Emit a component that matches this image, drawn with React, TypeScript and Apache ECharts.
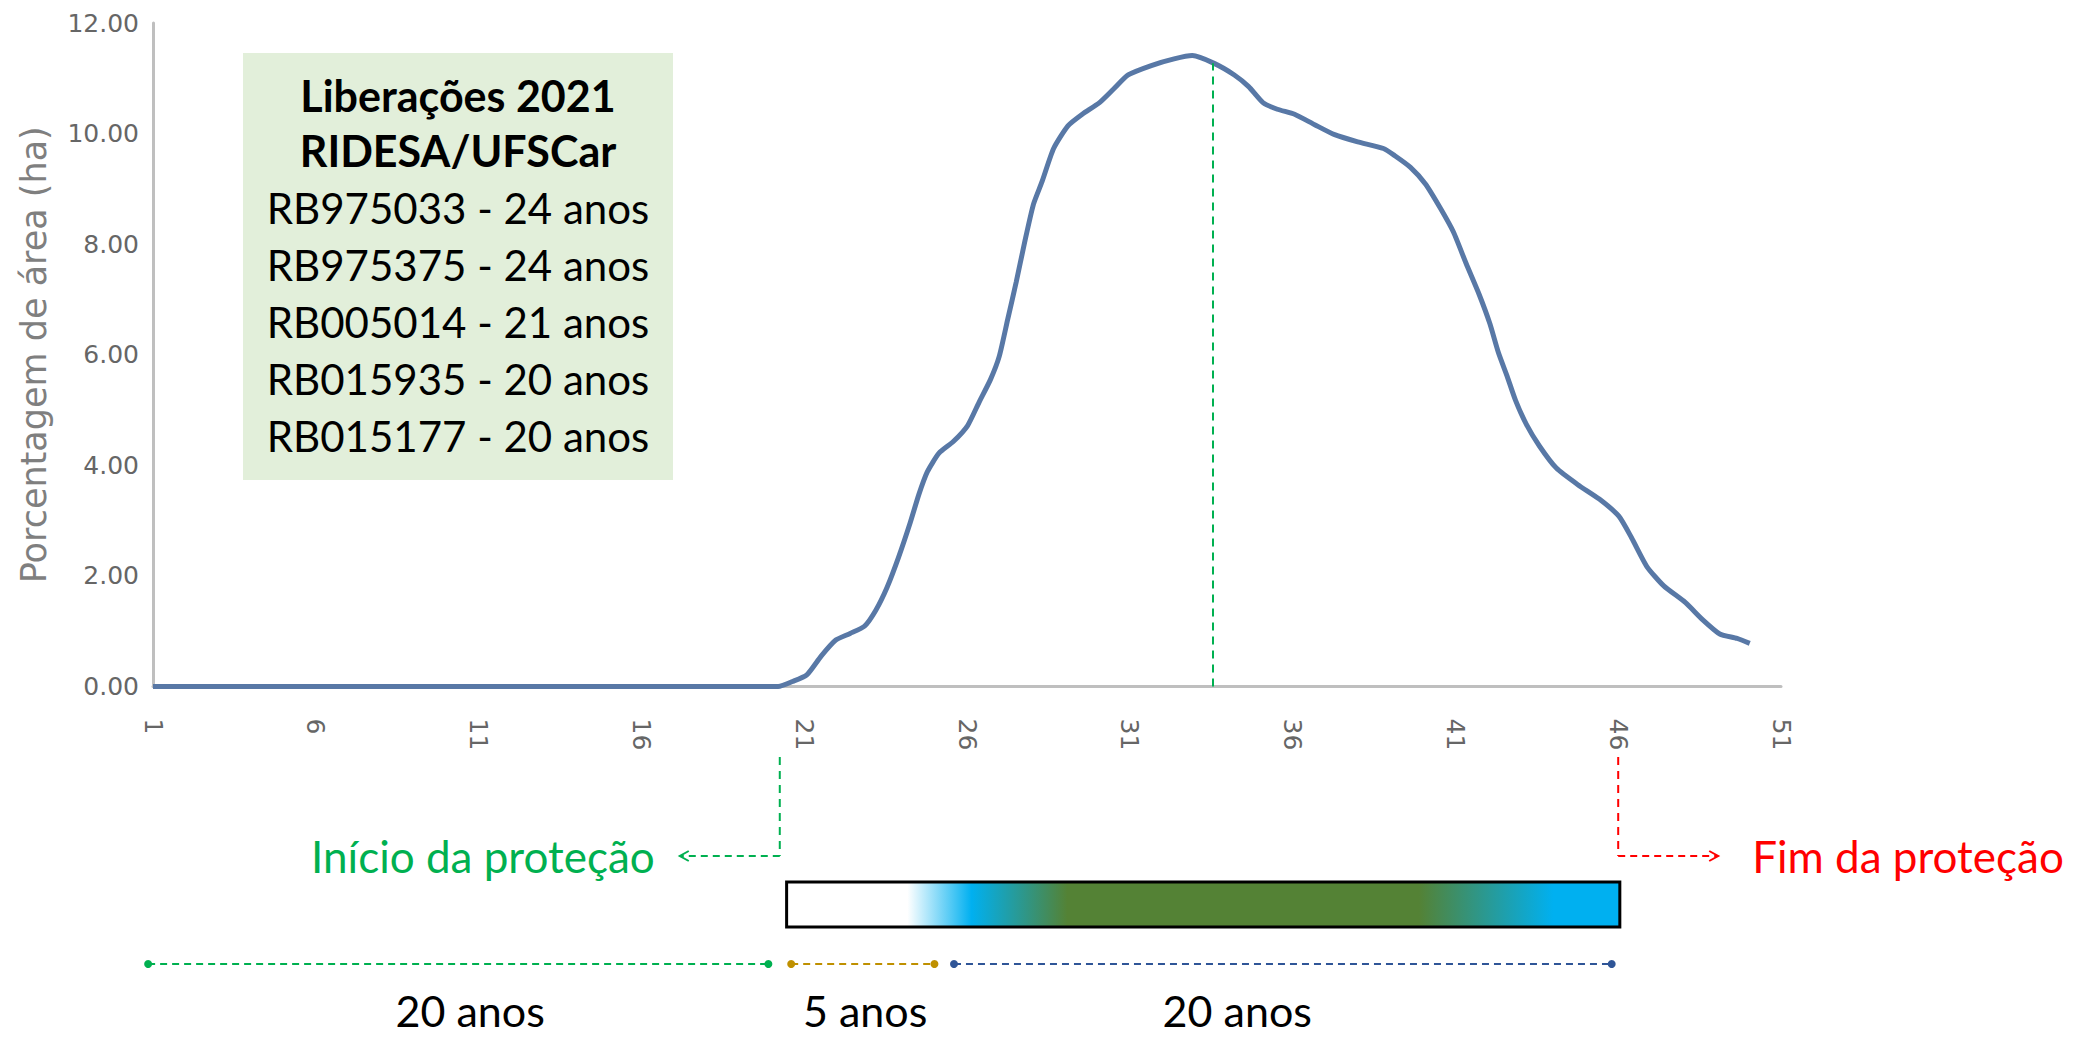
import React, { useEffect, useRef } from "react";
import * as echarts from "echarts";

// ---- data ----
const ageYears = [1, 20.2, 20.64, 21.08, 21.52, 21.97, 22.41, 22.85, 23.2, 23.55, 23.9, 24.26, 24.52, 24.78, 25.14, 25.58, 26.02, 26.37, 26.72, 26.99, 27.25, 27.51, 27.78, 28.04, 28.31, 28.66, 29.1, 29.54, 30.07, 30.51, 30.95, 31.66, 32.36, 32.92, 33.59, 34.21, 34.65, 35.09, 35.53, 36.06, 36.68, 37.29, 38.0, 38.79, 39.14, 39.62, 40.08, 40.54, 40.94, 41.33, 41.73, 42.06, 42.32, 42.59, 42.85, 43.18, 43.58, 44.1, 44.76, 45.42, 46.02, 46.41, 46.88, 47.4, 48.06, 48.59, 49.12, 49.65, 50.04];
const areaPercent = [0, 0, 0.09, 0.21, 0.55, 0.84, 0.96, 1.09, 1.38, 1.8, 2.34, 2.97, 3.47, 3.88, 4.22, 4.43, 4.72, 5.14, 5.55, 5.97, 6.64, 7.31, 8.06, 8.72, 9.14, 9.73, 10.14, 10.35, 10.56, 10.81, 11.06, 11.23, 11.35, 11.41, 11.27, 11.06, 10.85, 10.56, 10.44, 10.35, 10.16, 9.98, 9.85, 9.73, 9.6, 9.39, 9.09, 8.65, 8.22, 7.65, 7.09, 6.56, 6.04, 5.61, 5.17, 4.74, 4.35, 3.95, 3.65, 3.39, 3.08, 2.69, 2.17, 1.82, 1.52, 1.21, 0.95, 0.87, 0.78];
const xTickValues = [1, 6, 11, 16, 21, 26, 31, 36, 41, 46, 51];
const yAxisName = "Porcentagem de área (ha)";

const peakLineAge = 33.56;
const peakLineValue = 11.27;

const protectionStart = 20.25;
const protectionEnd = 46;
const barStartAge = 20.46;
const barEndAge = 46.05;

const periodFrom = [0.85, 20.6, 25.6];
const periodTo = [19.9, 25.0, 45.8];
const periodLabelAt = [10.74, 22.87, 34.3];
const periodLabels = ["20 anos", "5 anos", "20 anos"];
const periodColors = ["#00B050", "#BF9000", "#2F5597"];

const boxTitleLines = ["Liberações 2021", "RIDESA/UFSCar"];
const boxLines = [
  "RB975033 - 24 anos",
  "RB975375 - 24 anos",
  "RB005014 - 21 anos",
  "RB015935 - 20 anos",
  "RB015177 - 20 anos",
];
const startLabel = "Início da proteção";
const endLabel = "Fim da proteção";

const TEXT_FONT = "Lato";

function txt(x: number, y: number, text: string, font: string, fill: string, align: string, lineHeight?: number) {
  return {
    type: "text",
    x,
    y,
    style: {
      text,
      font,
      fill,
      align,
      verticalAlign: "middle",
      textAlign: align,
      textVerticalAlign: "middle",
      ...(lineHeight ? { lineHeight } : {}),
    },
  };
}

export default function App() {
  const ref = useRef<HTMLDivElement>(null);

  useEffect(() => {
    if (!ref.current) return;
    const chart = echarts.init(ref.current, undefined, { renderer: "svg" });
    const axisGray = "#BFBFBF";
    const labelGray = "#666666";

    chart.setOption({
      animation: false,
      grid: { left: 153, top: 23, width: 1628, height: 663.5, containLabel: false },
      xAxis: {
        type: "value",
        min: 1,
        max: 51,
        axisLine: { show: true, onZero: false, lineStyle: { color: axisGray, width: 3 } },
        axisTick: { show: false },
        splitLine: { show: false },
        axisLabel: {
          customValues: xTickValues,
          rotate: -90,
          margin: 32,
          color: labelGray,
          fontFamily: "DejaVu Sans",
          fontSize: 25,
        },
      },
      yAxis: {
        type: "value",
        min: 0,
        max: 12,
        interval: 2,
        axisLine: { show: true, lineStyle: { color: axisGray, width: 3 } },
        axisTick: { show: false },
        splitLine: { show: false },
        axisLabel: {
          formatter: (v: number) => v.toFixed(2),
          margin: 14,
          color: labelGray,
          fontFamily: "DejaVu Sans",
          fontSize: 25,
        },
        name: yAxisName,
        nameLocation: "middle",
        nameGap: 102,
        nameTextStyle: { fontFamily: "DejaVu Sans", fontSize: 35, color: "#7f7f7f" },
      },
      series: [
        {
          type: "line",
          data: ageYears.map((x, i) => [x, areaPercent[i]]),
          showSymbol: false,
          smooth: 0.2,
          lineStyle: { color: "#5878A6", width: 5 },
          markLine: {
            silent: true,
            symbol: ["none", "none"],
            label: { show: false },
            lineStyle: { type: [8, 6], color: "#00B050", width: 2 },
            data: [[{ coord: [peakLineAge, 0] }, { coord: [peakLineAge, peakLineValue] }]],
          },
        },
      ],
    });

    const px = (v: number) => chart.convertToPixel({ xAxisIndex: 0 }, v) as number;
    const annY = 856;
    const vTop = 757;
    const xs = px(protectionStart);
    const xe = px(protectionEnd);
    const tipL = xs - 100;
    const tipR = xe + 100;
    const boxFont = `42px ${TEXT_FONT}`;
    const annFont = `44px ${TEXT_FONT}`;

    const elements: any[] = [];
    // info box
    elements.push({ type: "rect", shape: { x: 243, y: 53, width: 430, height: 427 }, style: { fill: "#E2EFDA" } });
    const lineYs = [95, 150, 208, 265, 322, 379, 436];
    boxTitleLines.forEach((t, i) => elements.push(txt(458, lineYs[i], t, `bold 43px ${TEXT_FONT}`, "#000", "center")));
    boxLines.forEach((t, i) => elements.push(txt(458, lineYs[i + 2], t, boxFont, "#000", "center")));

    // start of protection
    const green = "#00B050";
    elements.push({ type: "line", shape: { x1: xs, y1: vTop, x2: xs, y2: annY }, style: { stroke: green, lineWidth: 2, lineDash: [8, 6] } });
    elements.push({ type: "line", shape: { x1: xs, y1: annY, x2: tipL, y2: annY }, style: { stroke: green, lineWidth: 2, lineDash: [7, 5] } });
    elements.push({ type: "polyline", shape: { points: [[tipL + 9, annY - 5], [tipL, annY], [tipL + 9, annY + 5]] }, style: { stroke: green, lineWidth: 2, fill: "none" } });
    elements.push(txt(tipL - 25, annY, startLabel, annFont, green, "right"));

    // end of protection
    const red = "#FF0000";
    elements.push({ type: "line", shape: { x1: xe, y1: vTop, x2: xe, y2: annY }, style: { stroke: red, lineWidth: 2, lineDash: [8, 6] } });
    elements.push({ type: "line", shape: { x1: xe, y1: annY, x2: tipR, y2: annY }, style: { stroke: red, lineWidth: 2, lineDash: [7, 5] } });
    elements.push({ type: "polyline", shape: { points: [[tipR - 9, annY - 5], [tipR, annY], [tipR - 9, annY + 5]] }, style: { stroke: red, lineWidth: 2, fill: "none" } });
    elements.push(txt(tipR + 34, annY, endLabel, annFont, red, "left"));

    // gradient bar
    const bx0 = px(barStartAge);
    const bx1 = px(barEndAge);
    elements.push({
      type: "rect",
      shape: { x: bx0, y: 882, width: bx1 - bx0, height: 45 },
      style: {
        fill: {
          type: "linear", x: 0, y: 0, x2: 1, y2: 0,
          colorStops: [
            { offset: 0, color: "#FFFFFF" },
            { offset: 0.145, color: "#FFFFFF" },
            { offset: 0.222, color: "#00B0F0" },
            { offset: 0.337, color: "#548235" },
            { offset: 0.759, color: "#548235" },
            { offset: 0.92, color: "#00B0F0" },
            { offset: 1, color: "#00B0F0" },
          ],
        },
        stroke: "#000",
        lineWidth: 3,
      },
    });

    // period segments
    const segY = 964;
    periodFrom.forEach((f, i) => {
      const a = px(f);
      const b = px(periodTo[i]);
      const c = periodColors[i];
      elements.push({ type: "line", shape: { x1: a, y1: segY, x2: b, y2: segY }, style: { stroke: c, lineWidth: 2, lineDash: [7, 5] } });
      elements.push({ type: "circle", shape: { cx: a, cy: segY, r: 4 }, style: { fill: c } });
      elements.push({ type: "circle", shape: { cx: b, cy: segY, r: 4 }, style: { fill: c } });
      elements.push(txt(px(periodLabelAt[i]), 1010, periodLabels[i], `43px ${TEXT_FONT}`, "#000", "center", 40));
    });

    chart.setOption({ graphic: { elements } });

    return () => chart.dispose();
  }, []);

  return (
    <div
      ref={ref}
      style={{ position: "fixed", left: 0, top: 0, width: 2074, height: 1041, background: "#fff" }}
    />
  );
}
